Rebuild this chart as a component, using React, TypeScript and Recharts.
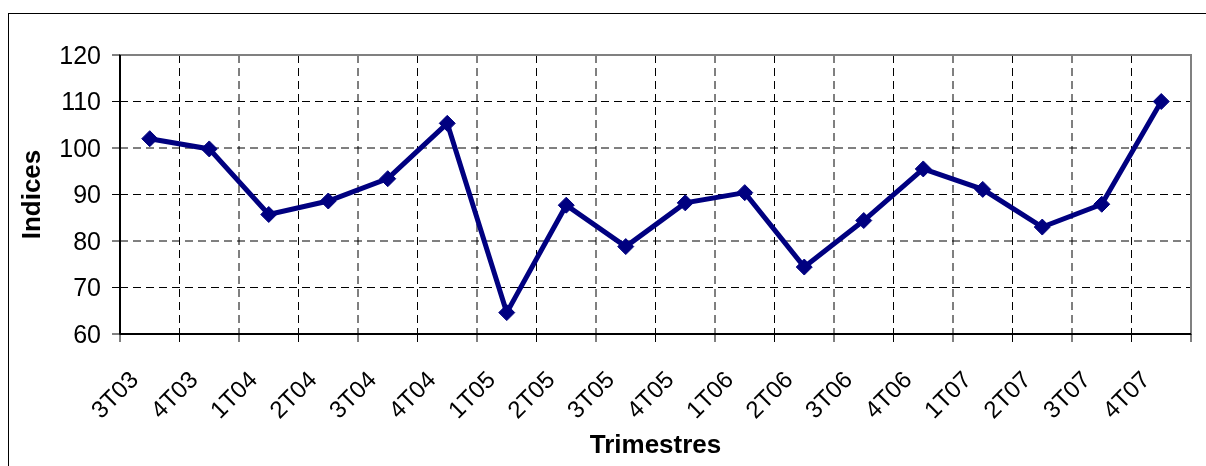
import React from 'react';
import {
    LineChart,
    Line,
    XAxis,
    YAxis,
    CartesianGrid,
    ReferenceArea,
    Label
} from 'recharts';

// quarters on the x axis
const categories = [
    '3T03', '4T03', '1T04', '2T04', '3T04', '4T04', '1T05', '2T05', '3T05',
    '4T05', '1T06', '2T06', '3T06', '4T06', '1T07', '2T07', '3T07', '4T07'
];

// index values
const indices = [
    102.0, 99.8, 85.7, 88.6, 93.4, 105.3, 64.6, 87.7, 78.8,
    88.2, 90.4, 74.4, 84.4, 95.5, 91.1, 83.0, 87.9, 110.0
];

const yTicks = [60, 70, 80, 90, 100, 110, 120];

const FONT = '"Liberation Sans", Arial, sans-serif';
const NAVY = '#000080';

// boundaries 0..18 carry the grid and tick marks, points sit at band centres
const xBounds = categories.map((_, i) => i).concat(categories.length);
const data = categories.map((name, i) => ({ x: i + 0.5, name, value: indices[i] }));

// sized so the page never scrolls (8px body margin on each side)
const CHART_W = 1190;
const CHART_H = 450;
const MARGIN = { top: 47, right: 7, bottom: 0, left: 0 };
const Y_AXIS_W = 112;
const HALF_BAND = (CHART_W - MARGIN.left - MARGIN.right - Y_AXIS_W) / categories.length / 2;

function QuarterTick(props: any) {
    const { x, y, payload } = props;
    const label = categories[payload.value];
    if (label === undefined) return <g />;
    const ax = x + HALF_BAND - 10;
    const ay = y + 39;
    return (
        <text
            x={ax}
            y={ay}
            textAnchor="end"
            transform={`rotate(-45, ${ax}, ${ay})`}
            fill="#000"
            fontSize={24}
            fontFamily={FONT}
        >
            {label}
        </text>
    );
}

function Diamond(props: any) {
    const { cx, cy } = props;
    if (cx == null || cy == null) return <g />;
    const r = 8;
    return (
        <polygon
            points={`${cx},${cy - r} ${cx + r},${cy} ${cx},${cy + r} ${cx - r},${cy}`}
            fill={NAVY}
            stroke={NAVY}
            strokeWidth={1}
        />
    );
}

function YTitle(props: any) {
    const { viewBox } = props;
    const cx = viewBox.x + 23;
    const cy = viewBox.y + viewBox.height / 2;
    return (
        <text
            x={cx}
            y={cy}
            textAnchor="middle"
            dominantBaseline="central"
            transform={`rotate(-90, ${cx}, ${cy})`}
            fontSize={26}
            fontWeight="bold"
            fontFamily={FONT}
            fill="#000"
        >
            Indices
        </text>
    );
}

function XTitle(props: any) {
    const { viewBox } = props;
    return (
        <text
            x={viewBox.x + viewBox.width / 2}
            y={viewBox.y + 119}
            textAnchor="middle"
            fontSize={26}
            fontWeight="bold"
            fontFamily={FONT}
            fill="#000"
        >
            Trimestres
        </text>
    );
}

export default function App() {
    return (
        <div style={{ position: 'relative', width: CHART_W, height: CHART_H }}>
            {/* outer chart frame, open to the right and bottom like the source */}
            <div
                style={{
                    position: 'fixed',
                    top: 13,
                    left: 8,
                    right: 0,
                    bottom: 0,
                    borderTop: '1px solid #000',
                    borderLeft: '1px solid #000'
                }}
            />
            <div style={{ position: 'absolute', top: 0, left: 0 }}>
                <LineChart width={CHART_W} height={CHART_H} data={data} margin={MARGIN}>
                    <CartesianGrid
                        stroke="#000"
                        strokeDasharray="8 5"
                        strokeWidth={1}
                        verticalValues={xBounds}
                        horizontalValues={yTicks}
                    />
                    <ReferenceArea
                        x1={0}
                        x2={categories.length}
                        y1={60}
                        y2={120}
                        fill="none"
                        stroke="#808080"
                        strokeWidth={2}
                        ifOverflow="visible"
                    />
                    <XAxis
                        type="number"
                        dataKey="x"
                        domain={[0, categories.length]}
                        ticks={xBounds}
                        interval={0}
                        height={CHART_H - 326}
                        tickSize={8}
                        tickMargin={0}
                        axisLine={{ stroke: '#000', strokeWidth: 2 }}
                        tickLine={{ stroke: '#000' }}
                        tick={<QuarterTick />}
                    >
                        <Label content={<XTitle />} />
                    </XAxis>
                    <YAxis
                        domain={[60, 120]}
                        ticks={yTicks}
                        interval={0}
                        width={Y_AXIS_W}
                        tickSize={8}
                        tickMargin={11}
                        axisLine={{ stroke: '#000', strokeWidth: 2 }}
                        tickLine={{ stroke: '#000' }}
                        tick={{ fill: '#000', fontSize: 25, fontFamily: FONT }}
                    >
                        <Label content={<YTitle />} />
                    </YAxis>
                    <Line
                        type="linear"
                        dataKey="value"
                        stroke={NAVY}
                        strokeWidth={5}
                        dot={<Diamond />}
                        activeDot={false}
                        isAnimationActive={false}
                    />
                </LineChart>
            </div>
        </div>
    );
}
